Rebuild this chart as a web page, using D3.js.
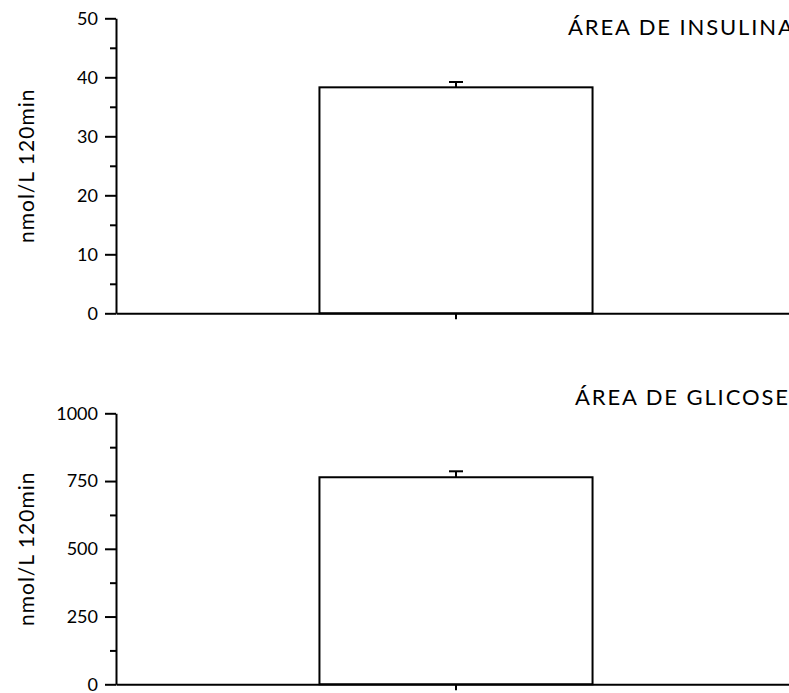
<!DOCTYPE html>
<html>
<head>
<meta charset="utf-8">
<script src="https://cdn.jsdelivr.net/npm/d3@7"></script>
<style>
  body { margin: 0; background: #fff; }
  svg { display: block; font-family: Lato, "Open Sans", sans-serif; }
</style>
</head>
<body>
<div id="chart"></div>
<script>
const width = 789;
const height = 693;

// data
const categories = [""];
const titles = ["ÁREA DE INSULINA", "ÁREA DE GLICOSE"];
const yLabel = "nmol/L 120min";
const insulinValues = [38.3];
const insulinErrors = [0.9];
const glucoseValues = [764];
const glucoseErrors = [22];
const insulinTicks = [0, 10, 20, 30, 40, 50];
const insulinMinor = [5, 15, 25, 35, 45];
const glucoseTicks = [0, 250, 500, 750, 1000];
const glucoseMinor = [125, 375, 625, 875];

const panels = [
  { title: titles[0], values: insulinValues, errors: insulinErrors, ticks: insulinTicks, minor: insulinMinor, top: 18.3, bottom: 313.3, titleX: 568, titleY: 35 },
  { title: titles[1], values: glucoseValues, errors: glucoseErrors, ticks: glucoseTicks, minor: glucoseMinor, top: 413.3, bottom: 684.3, titleX: 575, titleY: 405 },
];

const svg = d3.select("#chart").append("svg")
  .attr("width", width)
  .attr("height", height);

const x = d3.scaleBand()
  .domain(categories)
  .range([116, 796])
  .paddingInner(0)
  .paddingOuter(0.745);

panels.forEach((p) => {
  const maxV = d3.max(p.ticks);
  const y = d3.scaleLinear().domain([0, maxV]).range([p.bottom, p.top]);
  const g = svg.append("g");

  // minor ticks
  g.append("g")
    .attr("transform", "translate(116,0)")
    .call(d3.axisLeft(y).tickValues(p.minor).tickSize(6).tickFormat(""))
    .call((a) => a.select(".domain").remove())
    .call((a) => a.selectAll("line").attr("stroke-width", 2));

  // major ticks + labels
  g.append("g")
    .attr("transform", "translate(116,0)")
    .call(d3.axisLeft(y).tickValues(p.ticks).tickSize(11).tickSizeOuter(0).tickPadding(7).tickFormat(d3.format("d")))
    .attr("font-family", null)
    .call((a) => a.select(".domain").attr("stroke-width", 2))
    .call((a) => a.selectAll("line").attr("stroke-width", 2))
    .call((a) => a.selectAll("text").attr("font-size", 18).attr("fill", "#000"));

  // bars
  g.selectAll("rect.bar")
    .data(p.values)
    .join("rect")
    .attr("class", "bar")
    .attr("x", (d, i) => x(categories[i]))
    .attr("y", (d) => y(d))
    .attr("width", x.bandwidth())
    .attr("height", (d) => y(0) - y(d))
    .attr("fill", "#fff")
    .attr("stroke", "#000")
    .attr("stroke-width", 2);

  // error bars (upper only)
  p.values.forEach((v, i) => {
    const cx = x(categories[i]) + x.bandwidth() / 2;
    g.append("line")
      .attr("x1", cx).attr("x2", cx)
      .attr("y1", y(v)).attr("y2", y(v + p.errors[i]))
      .attr("stroke", "#000").attr("stroke-width", 2);
    g.append("line")
      .attr("x1", cx - 7).attr("x2", cx + 7)
      .attr("y1", y(v + p.errors[i])).attr("y2", y(v + p.errors[i]))
      .attr("stroke", "#000").attr("stroke-width", 2);
  });

  // x axis
  g.append("g")
    .attr("transform", `translate(0,${p.bottom})`)
    .call(d3.axisBottom(x).tickSize(6).tickSizeOuter(0).tickFormat(""))
    .call((a) => a.select(".domain").attr("stroke-width", 2))
    .call((a) => a.selectAll("line").attr("stroke-width", 2));

  // y label
  svg.append("text")
    .attr("transform", `translate(34,${(p.top + p.bottom) / 2}) rotate(-90)`)
    .attr("text-anchor", "middle")
    .attr("font-size", 21)
    .attr("letter-spacing", 1)
    .text(yLabel);

  // title
  svg.append("text")
    .attr("x", p.titleX)
    .attr("y", p.titleY)
    .attr("font-size", 22)
    .attr("letter-spacing", 1.9)
    .text(p.title);
});
</script>
</body>
</html>
